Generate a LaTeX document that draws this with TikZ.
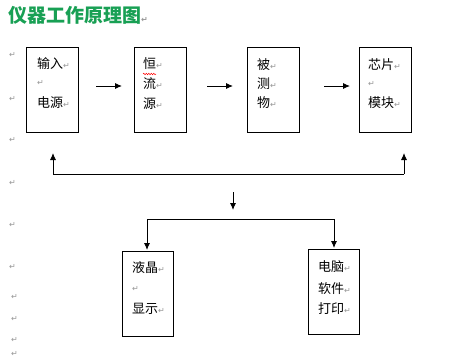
\documentclass[tikz,border=0pt]{standalone}
\usepackage{fontspec}
\newfontfamily\cjk{Noto Sans CJK SC}
\newfontfamily\sym{DejaVu Sans}
\usetikzlibrary{arrows.meta,decorations.pathmorphing}
\definecolor{titlegreen}{RGB}{24,160,84}
\definecolor{markgray}{RGB}{150,150,150}
\newcommand{\rmark}{{\sym\fontsize{8}{9}\selectfont\color{markgray}↵}}
\tikzset{
  x=1pt, y=-1pt,
  box/.style={draw=black, line width=0.9pt, minimum width=52pt, minimum height=85pt, inner sep=0pt, anchor=north west},
  txt/.style={anchor=west, inner sep=0pt, font=\cjk\fontsize{13}{14}\selectfont},
  mk/.style={anchor=west, inner sep=0pt},
  conn/.style={line width=0.9pt},
  arr/.style={line width=0.9pt, -{Latex[length=7pt,width=6pt]}},
}
\begin{document}
\begin{tikzpicture}
\useasboundingbox (0,0) rectangle (468,359);
\fill[white] (0,0) rectangle (468,359);
% title
\node[anchor=west, inner sep=0pt, font=\cjk\bfseries\fontsize{19}{20}\selectfont, text=titlegreen] (title) at (8,15) {仪器工作原理图\rmark};
% margin marks
\foreach \yy [count=\i] in {55,99,140,183,225,267}{\node[mk] (m\i) at (9,\yy) {\rmark};}
\foreach \yy [count=\i from 7] in {297,319,340,354}{\node[mk] (m\i) at (11,\yy) {\rmark};}
% boxes
\node[box] (b1) at (26,47) {};
\node[box] (b2) at (134,47) {};
\node[box] (b3) at (247,47) {};
\node[box] (b4) at (359,47) {};
\node[box, minimum width=51pt] (b5) at (122,251) {};
\node[box, minimum width=51pt] (b6) at (308,249) {};
% box texts
\node[txt] (t1a) at (37,64) {输入\rmark};
\node[mk] (t1b) at (37,83) {\rmark};
\node[txt] (t1c) at (37,103) {电源\rmark};
\node[txt] (t2a) at (143,64) {恒\rmark};
\node[txt] (t2b) at (143,84) {流\rmark};
\node[txt] (t2c) at (143,104) {源\rmark};
\draw[red, line width=0.5pt, decorate, decoration={snake, amplitude=0.7pt, segment length=2.5pt}] (143,74) -- (156,74);
\node[txt] (t3a) at (257,65) {被\rmark};
\node[txt] (t3b) at (257,84) {测\rmark};
\node[txt] (t3c) at (257,103) {物\rmark};
\node[txt] (t4a) at (368,65) {芯片\rmark};
\node[mk] (t4b) at (368,84) {\rmark};
\node[txt] (t4c) at (368,103) {模块\rmark};
\node[txt] (t5a) at (132,268) {液晶\rmark};
\node[mk] (t5b) at (132,289) {\rmark};
\node[txt] (t5c) at (132,309) {显示\rmark};
\node[txt] (t6a) at (318,267) {电脑\rmark};
\node[txt] (t6b) at (318,289) {软件\rmark};
\node[txt] (t6c) at (318,309) {打印\rmark};
% coordinates
\coordinate (a1s) at (96,86); \coordinate (a1e) at (122,86);
\coordinate (a2s) at (207,86); \coordinate (a2e) at (233,86);
\coordinate (a3s) at (324,86); \coordinate (a3e) at (350,86);
\coordinate (fl) at (53,174); \coordinate (flt) at (53,153);
\coordinate (fr) at (404,174); \coordinate (frt) at (404,153);
\coordinate (ds) at (233,192); \coordinate (de) at (233,210);
\coordinate (hl) at (147,219); \coordinate (hr) at (334,219);
\coordinate (dl) at (147,250); \coordinate (dr) at (334,248);
% arrows
\draw[arr] (a1s) -- (a1e);
\draw[arr] (a2s) -- (a2e);
\draw[arr] (a3s) -- (a3e);
\draw[conn] (fl) -- (fr);
\draw[arr] (fl) -- (flt);
\draw[arr] (fr) -- (frt);
\draw[arr] (ds) -- (de);
\draw[conn] (hl) -- (hr);
\draw[arr] (hl) -- (dl);
\draw[arr] (hr) -- (dr);
\end{tikzpicture}
\end{document}
